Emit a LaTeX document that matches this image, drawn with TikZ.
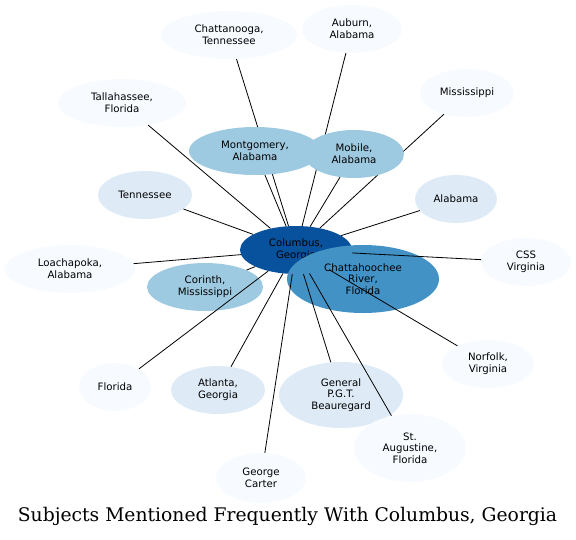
\documentclass[tikz,border=0pt]{standalone}
\usepackage{fontspec}
\newfontfamily\nodefont{DejaVu Sans}
\newfontfamily\titlefont{DejaVu Serif}
\usetikzlibrary{shapes.geometric}
\pgfdeclarelayer{bg}
\pgfdeclarelayer{edgesA}
\pgfdeclarelayer{mid}
\pgfsetlayers{bg,edgesA,mid,main}
\definecolor{b1}{HTML}{F7FBFF}
\definecolor{b2}{HTML}{DEEBF7}
\definecolor{b3}{HTML}{9ECAE1}
\definecolor{b4}{HTML}{4292C6}
\definecolor{b5}{HTML}{08519C}
\tikzset{
  subj/.style={ellipse, draw=none, inner sep=0pt, align=center,
    font=\nodefont\fontsize{10.2}{11.7}\selectfont},
  link/.style={draw=black, line width=0.8pt},
}
\begin{document}
\begin{tikzpicture}[x=1pt,y=-1pt]
\useasboundingbox (0,0) rectangle (576,539);
\begin{pgfonlayer}{bg}
\node[subj, fill=b5, minimum width=112, minimum height=48] (col) at (296,250) {Columbus,\\Georgia};
\node[subj, fill=b4, minimum width=152, minimum height=68] (cha) at (363,279) {Chattahoochee\\River,\\Florida};
\node[subj, fill=b1, minimum width=136, minimum height=48] (chn) at (229,35) {Chattanooga,\\Tennessee};
\node[subj, fill=b1, minimum width=100, minimum height=48] (aub) at (352,29) {Auburn,\\Alabama};
\node[subj, fill=b1, minimum width=94, minimum height=48] (mis) at (467,93) {Mississippi};
\node[subj, fill=b1, minimum width=128, minimum height=48] (tal) at (122,103) {Tallahassee,\\Florida};
\node[subj, fill=b2, minimum width=94, minimum height=48] (ten) at (145,195) {Tennessee};
\node[subj, fill=b2, minimum width=82, minimum height=48] (ala) at (456,199) {Alabama};
\node[subj, fill=b1, minimum width=90, minimum height=48] (css) at (526,262) {CSS\\Virginia};
\node[subj, fill=b1, minimum width=130, minimum height=48] (loa) at (70,269) {Loachapoka,\\Alabama};
\node[subj, fill=b3, minimum width=116, minimum height=48] (cor) at (205,287) {Corinth,\\Mississippi};
\node[subj, fill=b1, minimum width=92, minimum height=48] (nor) at (488,364) {Norfolk,\\Virginia};
\node[subj, fill=b1, minimum width=72, minimum height=48] (fla) at (115,387) {Florida};
\node[subj, fill=b2, minimum width=94, minimum height=48] (atl) at (218,390) {Atlanta,\\Georgia};
\node[subj, fill=b2, minimum width=124, minimum height=66] (gen) at (341,395) {General\\P.G.T.\\Beauregard};
\node[subj, fill=b1, minimum width=112, minimum height=68] (sta) at (410,448) {St.\\Augustine,\\Florida};
\node[subj, fill=b1, minimum width=90, minimum height=50] (geo) at (261,478) {George\\Carter};
\end{pgfonlayer}
\begin{pgfonlayer}{mid}
\node[subj, fill=b3, minimum width=132, minimum height=48] (mon) at (255,151) {Montgomery,\\Alabama};
\node[subj, fill=b3, minimum width=100, minimum height=48] (mob) at (354,154) {Mobile,\\Alabama};
\end{pgfonlayer}
\begin{pgfonlayer}{edgesA}
\foreach \t in {chn,aub,mis,tal}
  \draw[link] (col) -- (\t);
\end{pgfonlayer}
\foreach \t in {mon,mob,ten,ala,css,loa,cor,nor,fla,atl,gen,sta,geo}
  \draw[link] (col) -- (\t);
\node[font=\titlefont\fontsize{18.75}{22}\selectfont] (title) at (287.5,516) {Subjects Mentioned Frequently With Columbus, Georgia};
\end{tikzpicture}
\end{document}
